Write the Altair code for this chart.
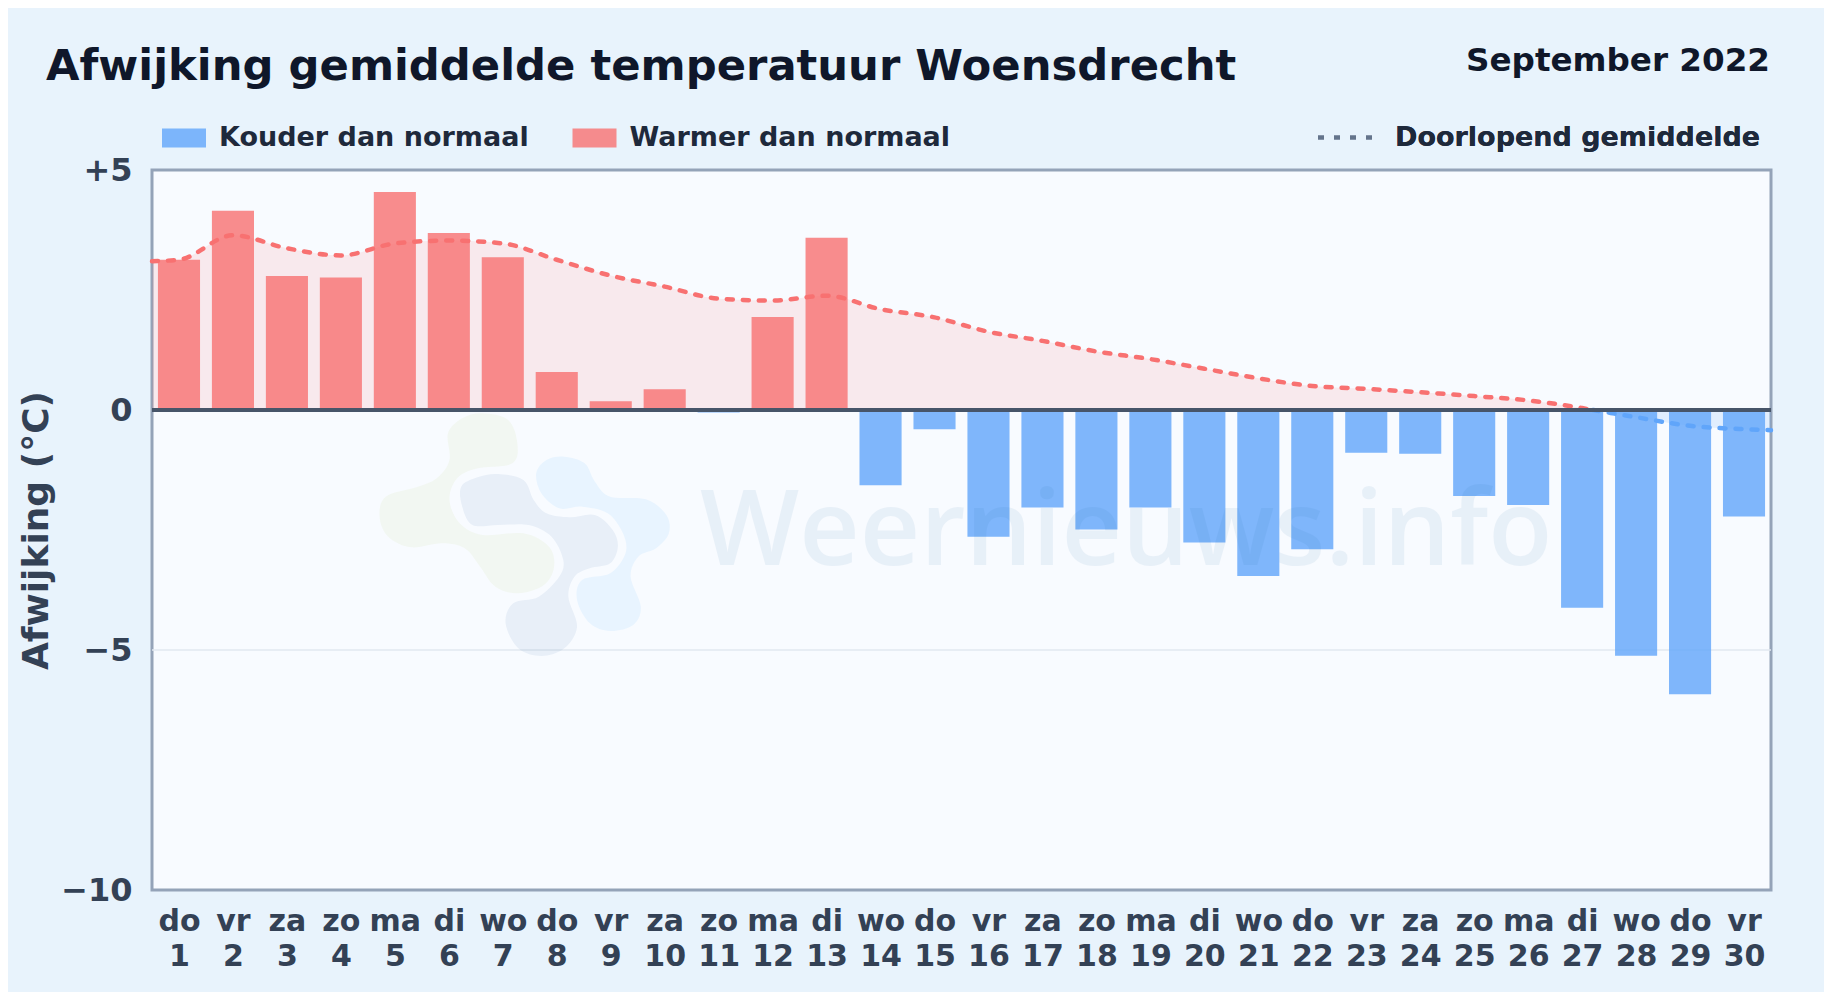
import altair as alt
import pandas as pd

weekdays = ["do","vr","za","zo","ma","di","wo","do","vr","za","zo","ma","di","wo","do","vr","za","zo","ma","di","wo","do","vr","za","zo","ma","di","wo","do","vr"]
days = list(range(1, 31))
deviation = [3.13,4.15,2.79,2.76,4.54,3.69,3.18,0.79,0.18,0.43,-0.05,1.94,3.59,-1.57,-0.40,-2.64,-2.03,-2.49,-2.03,-2.76,-3.46,-2.90,-0.89,-0.91,-1.79,-1.98,-4.12,-5.12,-5.92,-2.22]
mean_days_warm = [0.5,1,2,3,4,5,6,7,8,9,10,11,12,13,14,15,16,17,18,19,20,21,22,23,24,25,26,27,27.2]
mean_warm = [3.10,3.13,3.64,3.37,3.22,3.47,3.53,3.47,3.13,2.80,2.57,2.32,2.28,2.38,2.10,1.93,1.63,1.44,1.22,1.06,0.86,0.66,0.50,0.44,0.37,0.29,0.20,0.04,0.0]
mean_days_cold = [27.2,28,29,30,30.5]
mean_cold = [0.0,-0.15,-0.33,-0.40,-0.42]
COLD, WARM = "Kouder dan normaal", "Warmer dan normaal"
MEAN = "Doorlopend gemiddelde"
TITLE = "Afwijking gemiddelde temperatuur Woensdrecht"
MONTH = "September 2022"

BG, PLOT, INK, AXIS = "#e8f3fc", "#f8fbff", "#0f172a", "#334155"
RED, BLUE = "#f87171", "#60a5fa"
FONT = "DejaVu Sans"

LEFT, TOP, W, H = 152, 170, 1619, 720

bars = pd.DataFrame({"day": days, "v": deviation, "zero": [0]*30,
                     "d0": [d-0.39 for d in days], "d1": [d+0.39 for d in days],
                     "kind": [WARM if v > 0 else COLD for v in deviation]})
warm = pd.DataFrame({"day": mean_days_warm, "v": mean_warm, "zero": 0, "name": MEAN})
cold = pd.DataFrame({"day": mean_days_cold, "v": mean_cold, "zero": 0, "name": MEAN})

xs = alt.Scale(domain=[0.5, 30.5], nice=False, zero=False)
ys = alt.Scale(domain=[-10, 5], nice=False)
wd = "[" + ",".join(f"'{w}'" for w in weekdays) + "]"

xax = alt.Axis(values=days, title=None, domain=False, ticks=False, grid=False, labelAngle=0,
               labelExpr=f"[{wd}[datum.value-1], toString(datum.value)]",
               labelFont=FONT, labelFontWeight="bold", labelFontSize=30, labelColor=AXIS,
               labelLineHeight=35, labelPadding=16, labelFlush=False, labelOverlap=False,
               labelBound=False, labelSeparation=0)
yax = alt.Axis(values=[-10, -5, 0, 5], title="Afwijking (°C)", domain=False, ticks=False, grid=False,
               labelExpr="datum.value>0 ? '+'+datum.value : datum.value<0 ? '−'+abs(datum.value) : '0'",
               labelFont=FONT, labelFontWeight="bold", labelFontSize=32, labelColor=AXIS, labelPadding=20,
               titleFont=FONT, titleFontWeight="bold", titleFontSize=36, titleColor=AXIS, titleX=-96.5)

x = alt.X("day:Q", scale=xs, axis=xax)
y = alt.Y("v:Q", scale=ys, axis=yax)

grid_line = alt.Chart(pd.DataFrame({"v": [-5]})).mark_rule(color="#e2e8f0", strokeWidth=1.5).encode(y=alt.Y("v:Q", scale=ys, axis=yax))

area_w = alt.Chart(warm).mark_area(color=RED, opacity=0.13, interpolate="monotone").encode(x=x, y=y, y2="zero:Q")
area_c = alt.Chart(cold).mark_area(color=BLUE, opacity=0.15, interpolate="monotone").encode(x=x, y=y, y2="zero:Q")

bar_legend = alt.Legend(orient="none", legendX=10, legendY=-54, direction="horizontal", title=None,
                        symbolType="M-1,-0.43H1V0.43H-1Z", symbolSize=1936, symbolStrokeWidth=0, symbolOpacity=0.8,
                        labelFont=FONT, labelFontWeight="bold", labelFontSize=27, labelColor="#1e293b", labelLimit=0,
                        labelOffset=13, columnPadding=43.5, symbolOffset=0)
bar = alt.Chart(bars).mark_rect(opacity=0.8).encode(
    x=alt.X("d0:Q", scale=xs, axis=xax), x2="d1:Q",
    y=alt.Y("v:Q", scale=ys, axis=yax), y2="zero:Q",
    color=alt.Color("kind:N", scale=alt.Scale(domain=[COLD, WARM], range=[BLUE, RED]), legend=bar_legend),
)

dash = alt.StrokeDash("name:N", scale=alt.Scale(domain=[MEAN], range=[[6, 10]]),
                      legend=alt.Legend(orient="none", legendX=1164, legendY=-62, title=None, symbolType="stroke",
                                        symbolSize=3025, symbolStrokeColor="#64748b", symbolStrokeWidth=4,
                                        symbolDash=[2, 14], labelFont=FONT, labelFontWeight="bold", labelLimit=0,
                                        labelFontSize=27, labelColor="#1e293b", labelOffset=20))
line_w = alt.Chart(warm).mark_line(stroke=RED, strokeWidth=4.5, strokeCap="round", interpolate="monotone").encode(x=x, y=y, strokeDash=dash)
line_c = alt.Chart(cold).mark_line(stroke=BLUE, strokeWidth=4.5, strokeCap="round", interpolate="monotone").encode(x=x, y=y, strokeDash=dash)

zero_line = alt.Chart(pd.DataFrame({"v": [0]})).mark_rule(color="#475569", strokeWidth=4).encode(y=alt.Y("v:Q", scale=ys, axis=yax))

# watermark
BLOB_G = [(260,40),(310,60),(328,130),(318,190),(250,205),(210,235),(195,300),(215,370),(260,405),(340,400),(390,440),(400,500),(380,555),(330,580),(285,560),(255,500),(225,445),(180,430),(120,442),(75,410),(58,350),(70,290),(130,262),(170,235),(195,180),(192,100),(220,55)]
BLOB_D = [(290,222),(340,240),(360,300),(385,340),(430,352),(480,345),(515,390),(525,440),(510,490),(470,505),(440,530),(428,590),(445,680),(420,745),(375,768),(330,745),(305,670),(320,610),(370,590),(410,530),(418,480),(395,410),(350,375),(290,375),(240,375),(220,320),(218,260),(250,232)]
BLOB_L = [(420,170),(460,190),(480,245),(510,290),(580,298),(620,345),(625,400),(600,445),(565,470),(550,530),(570,620),(555,675),(510,693),(470,670),(445,600),(455,540),(510,520),(540,460),(535,400),(505,340),(455,320),(410,325),(375,280),(365,220),(385,180)]
CX, CY, R = 525, 530, 120

def blob_path(pts):
    p = [((350 + a/1.96 - CX)/R, (400 + b/3 - CY)/R) for a, b in pts]
    n = len(p)
    s = f"M{p[0][0]:.4f},{p[0][1]:.4f}"
    for i in range(n):
        p0, p1, p2, p3 = p[i-1], p[i], p[(i+1) % n], p[(i+2) % n]
        c1 = (p1[0]+(p2[0]-p0[0])/6, p1[1]+(p2[1]-p0[1])/6)
        c2 = (p2[0]-(p3[0]-p1[0])/6, p2[1]-(p3[1]-p1[1])/6)
        s += f"C{c1[0]:.4f},{c1[1]:.4f},{c2[0]:.4f},{c2[1]:.4f},{p2[0]:.4f},{p2[1]:.4f}"
    return s + "Z"

one = pd.DataFrame({"a": [1]})
def blob(pts, col, op):
    return alt.Chart(one).mark_point(shape=blob_path(pts), filled=True, fill=col, fillOpacity=op, opacity=1,
                                     strokeWidth=0, size=(2*R)**2).encode(x=alt.value(CX-LEFT), y=alt.value(CY-TOP))
wm = [blob(BLOB_G, "#a3c94a", 0.07), blob(BLOB_D, "#1e5a9c", 0.07), blob(BLOB_L, "#38a8ff", 0.08)]
wm_text = alt.Chart(one).mark_text(text="Weernieuws.info", font="Open Sans", fontSize=105, fontWeight=600, align="left",
                                   baseline="alphabetic", color="#1e6aa8", opacity=0.07).encode(
    x=alt.value(700-LEFT), y=alt.value(565-TOP))

month = alt.Chart(one).mark_text(text=MONTH, font=FONT, fontWeight="bold", fontSize=32.6, align="right",
                                 baseline="alphabetic", color=INK).encode(x=alt.value(1770-LEFT), y=alt.value(71-TOP))
title = alt.Chart(one).mark_text(text=TITLE, font=FONT, fontWeight="bold", fontSize=43.3, align="left",
                                 baseline="alphabetic", color=INK).encode(x=alt.value(46-LEFT), y=alt.value(80-TOP))

chart = alt.layer(grid_line, area_w, area_c, bar, line_w, line_c, zero_line, *wm, wm_text, month, title).resolve_scale(
    color="independent", strokeDash="independent"
).properties(
    width=W, height=H,
    autosize=alt.AutoSizeParams(type="none"),
    padding={"left": LEFT-8, "top": TOP-8, "right": 1816-(LEFT-8)-W, "bottom": 984-(TOP-8)-H},
    background=BG,
).configure_view(fill=PLOT, stroke="#94a3b8", strokeWidth=3)

chart.save("out.html", embed_options={"renderer": "svg", "actions": False})
